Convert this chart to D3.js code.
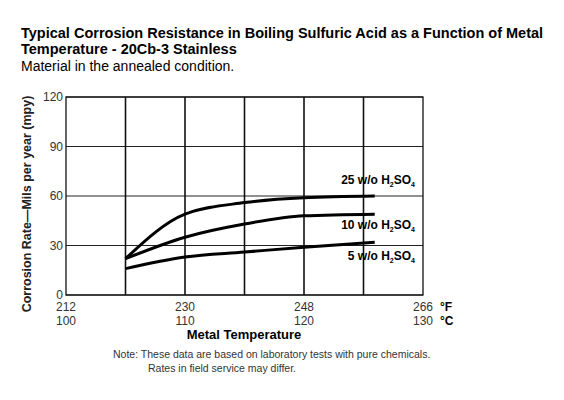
<!DOCTYPE html>
<html><head><meta charset="utf-8">
<script src="https://cdn.jsdelivr.net/npm/d3@7"></script>
<style>body{margin:0;background:#fff;font-family:Arial,"Liberation Sans",sans-serif}</style>
</head><body><svg id="c" width="564" height="400"></svg>
<script>
const tempF = [221, 230, 239, 248, 258.7];
const series = [
  {name: "25", values: [22, 49, 56, 59, 60], ly: 184},
  {name: "10", values: [22, 35, 43, 48, 49], ly: 229},
  {name: "5", values: [16, 23, 26, 29, 32], ly: 260}
];
const yTicks = [0, 30, 60, 90, 120];
const fTicks = [212, 230, 248, 266];
const cTicks = [100, 110, 120, 130];
const gridF = [221, 230, 239, 248, 257];

const svg = d3.select("#c");
const x = d3.scaleLinear().domain([212, 266]).range([66, 423]);
const y = d3.scaleLinear().domain([0, 120]).range([295, 97]);
const xc = d3.scaleLinear().domain([100, 130]).range([66, 423]);

svg.append("text").attr("x", 21).attr("y", 38).attr("font-size", 14.5).attr("font-weight", "bold")
  .text("Typical Corrosion Resistance in Boiling Sulfuric Acid as a Function of Metal");
svg.append("text").attr("x", 21).attr("y", 54).attr("font-size", 14.5).attr("font-weight", "bold")
  .text("Temperature - 20Cb-3 Stainless");
svg.append("text").attr("x", 21).attr("y", 71).attr("font-size", 14).text("Material in the annealed condition.");

const g = svg.append("g");
g.selectAll(".hg").data(yTicks).join("line").attr("x1", x(212)).attr("x2", x(266))
  .attr("y1", d => y(d)).attr("y2", d => y(d)).attr("stroke", "#222").attr("stroke-width", 1);
g.selectAll(".vg").data(gridF).join("line").attr("x1", d => x(d)).attr("x2", d => x(d))
  .attr("y1", y(0)).attr("y2", y(120)).attr("stroke", "#111").attr("stroke-width", 1.6);
g.append("rect").attr("x", x(212)).attr("y", y(120)).attr("width", x(266) - x(212)).attr("height", y(0) - y(120))
  .attr("fill", "none").attr("stroke", "#111").attr("stroke-width", 1.3);

g.selectAll(".yt").data(yTicks).join("text").attr("x", x(212) - 3).attr("y", d => y(d) + 4)
  .attr("text-anchor", "end").attr("font-size", 12).attr("fill", "#333").text(d => d);
g.selectAll(".ft").data(fTicks).join("text").attr("x", d => x(d)).attr("y", y(0) + 16)
  .attr("text-anchor", "middle").attr("font-size", 12).attr("fill", "#333").text(d => d);
g.selectAll(".ct").data(cTicks).join("text").attr("x", d => xc(d)).attr("y", y(0) + 30)
  .attr("text-anchor", "middle").attr("font-size", 12).attr("fill", "#333").text(d => d);
svg.append("text").attr("x", 440).attr("y", y(0) + 16).attr("font-size", 12).attr("font-weight", "bold").text("°F");
svg.append("text").attr("x", 440).attr("y", y(0) + 30).attr("font-size", 12).attr("font-weight", "bold").text("°C");
svg.append("text").attr("x", 244).attr("y", y(0) + 44).attr("text-anchor", "middle").attr("font-size", 13)
  .attr("font-weight", "bold").text("Metal Temperature");
svg.append("text").attr("transform", `translate(31,${(y(0) + y(120)) / 2 + 8}) rotate(-90)`).attr("text-anchor", "middle")
  .attr("font-size", 12.5).attr("font-weight", "bold").attr("fill", "#222").text("Corrosion Rate—Mils per year (mpy)");

const line = d3.line().x((d, i) => x(tempF[i])).y(d => y(d)).curve(d3.curveMonotoneX);
g.selectAll(".s").data(series).join("path").attr("d", d => line(d.values))
  .attr("fill", "none").attr("stroke", "#000").attr("stroke-width", 3);

series.forEach(s => {
  const t = svg.append("text").attr("x", 415).attr("y", s.ly).attr("text-anchor", "end")
    .attr("font-size", 12).attr("font-weight", "bold");
  t.append("tspan").text(s.name + " w/o H");
  t.append("tspan").attr("font-size", 7).attr("dy", 3).text("2");
  t.append("tspan").attr("dy", -3).text("SO");
  t.append("tspan").attr("font-size", 7).attr("dy", 3).text("4");
  const b = t.node().getBBox();
  svg.insert("rect", "text").attr("x", b.x - 2).attr("y", b.y).attr("width", b.width + 4)
    .attr("height", b.height).attr("fill", "#fff");
});

svg.append("text").attr("x", 113).attr("y", 358).attr("font-size", 10.5).attr("fill", "#333")
  .text("Note: These data are based on laboratory tests with pure chemicals.");
svg.append("text").attr("x", 148).attr("y", 372).attr("font-size", 10.5).attr("fill", "#333")
  .text("Rates in field service may differ.");
</script></body></html>
